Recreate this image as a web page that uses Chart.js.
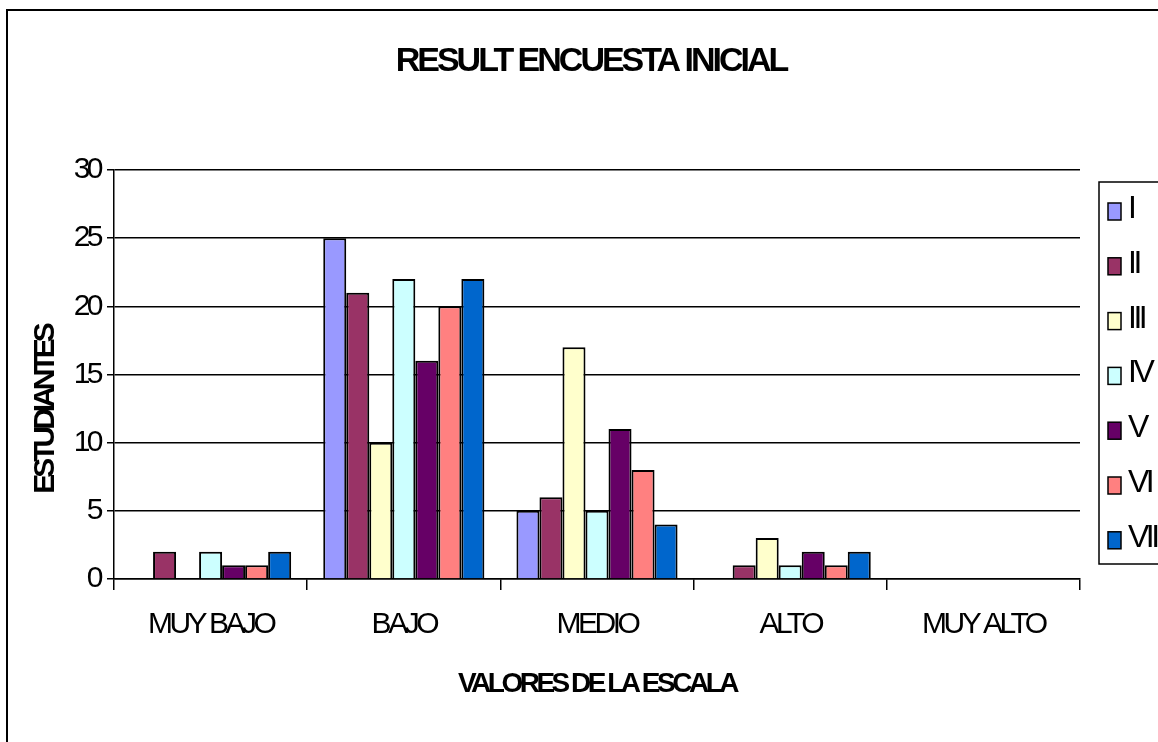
<!DOCTYPE html>
<html lang="es">
  <head>
    <meta charset="utf-8">
    <title>RESULT ENCUESTA INICIAL</title>
    <script src="https://cdn.jsdelivr.net/npm/chart.js"></script>
    <style>
      body { margin: 0; background: #fff; }
      #myChart { display: block; }
    </style>
  </head>
  <body>
    <canvas id="myChart" width="1158" height="742"></canvas>
    <script>
      // datos
      const categories = ['MUY BAJO', 'BAJO', 'MEDIO', 'ALTO', 'MUY ALTO'];
      const seriesNames = ['I', 'II', 'III', 'IV', 'V', 'VI', 'VII'];
      const serieI   = [0, 25, 5, 0, 0];
      const serieII  = [2, 21, 6, 1, 0];
      const serieIII = [0, 10, 17, 3, 0];
      const serieIV  = [2, 22, 5, 1, 0];
      const serieV   = [1, 16, 11, 2, 0];
      const serieVI  = [1, 20, 8, 1, 0];
      const serieVII = [2, 22, 4, 2, 0];
      const yMin = 0;
      const yMax = 30;
      const yStep = 5;

      const chartTitle = 'RESULT ENCUESTA INICIAL';
      const yTitle = 'ESTUDIANTES';
      const xTitle = 'VALORES DE LA ESCALA';

      const colors = ['#9999FF', '#993366', '#FFFFCC', '#CCFFFF', '#660066', '#FF8080', '#0066CC'];
      const allSeries = [serieI, serieII, serieIII, serieIV, serieV, serieVI, serieVII];
      const FONT = '"Liberation Sans", Arial, sans-serif';

      const datasets = seriesNames.map((name, i) => ({
        label: name,
        data: allSeries[i],
        backgroundColor: colors[i],
        borderColor: '#000',
        borderWidth: 2,
        categoryPercentage: 0.834,
        barPercentage: 1.0
      }));

      // marco, titulo, titulo del eje y y leyenda
      const decoraciones = {
        id: 'decoraciones',
        beforeDraw(chart) {
          const ctx = chart.ctx;
          ctx.fillStyle = '#fff';
          ctx.fillRect(0, 0, chart.width, chart.height);
          ctx.letterSpacing = '-3.5px';
        },
        afterDraw(chart) {
          const ctx = chart.ctx;
          ctx.save();
          ctx.strokeStyle = '#000';
          ctx.lineWidth = 2;
          ctx.strokeRect(7, 10, 1300, 900);

          ctx.fillStyle = '#000';
          ctx.letterSpacing = '-3px';
          ctx.font = 'bold 34px ' + FONT;
          ctx.textAlign = 'center';
          ctx.textBaseline = 'middle';
          ctx.fillText(chartTitle, 591, 62);

          ctx.save();
          ctx.translate(46, 410);
          ctx.rotate(-Math.PI / 2);
          ctx.font = 'bold 30px ' + FONT;
          ctx.letterSpacing = '-4px';
          ctx.fillText(yTitle, 0, 0);
          ctx.restore();

          // leyenda
          ctx.lineWidth = 1.5;
          ctx.strokeRect(1099, 182, 120, 382);
          ctx.font = '32px ' + FONT;
          ctx.letterSpacing = '-3.5px';
          ctx.textAlign = 'left';
          ctx.textBaseline = 'alphabetic';
          seriesNames.forEach((name, i) => {
            const y = 203 + i * 54.8;
            ctx.fillStyle = colors[i];
            ctx.fillRect(1108, y, 13, 17);
            ctx.strokeStyle = '#000';
            ctx.lineWidth = 1.5;
            ctx.strokeRect(1108, y, 13, 17);
            ctx.fillStyle = '#000';
            ctx.fillText(name, 1128, y + 15);
          });
          ctx.restore();
        }
      };

      const ctx = document.getElementById('myChart');
      new Chart(ctx, {
        type: 'bar',
        data: { labels: categories, datasets: datasets },
        plugins: [decoraciones],
        options: {
          responsive: false,
          animation: false,
          layout: { padding: { left: 0, top: 170, right: 78, bottom: 0 } },
          plugins: {
            legend: { display: false },
            title: { display: false },
            tooltip: { enabled: false }
          },
          scales: {
            x: {
              afterFit(scale) { scale.height = 163; },
              grid: { offset: true, drawOnChartArea: false, drawTicks: true, tickLength: 11, color: '#000', lineWidth: 1.5 },
              border: { display: true, color: '#000', width: 1.5 },
              ticks: { color: '#000', padding: 17, font: { family: FONT, size: 30 } },
              title: {
                display: true,
                text: xTitle,
                color: '#000',
                font: { family: FONT, size: 28, weight: 'bold' },
                padding: { top: 0, bottom: 41 }
              }
            },
            y: {
              min: yMin,
              max: yMax,
              afterFit(scale) { scale.width = 114; },
              grid: { color: '#000', lineWidth: 1.5, tickLength: 7 },
              border: { display: true, color: '#000', width: 1.5 },
              ticks: { stepSize: yStep, color: '#000', padding: 7, font: { family: FONT, size: 30 } }
            }
          }
        }
      });
    </script>
  </body>
</html>
